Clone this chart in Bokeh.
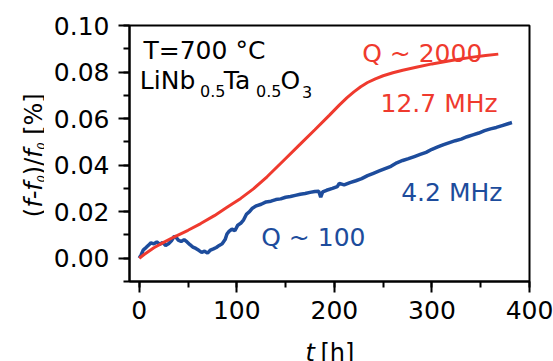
import math
from bokeh.plotting import figure
from bokeh.layouts import row, column
from bokeh.models import Range1d, Label, SingleIntervalTicker, PrintfTickFormatter
from bokeh.embed import file_html
from bokeh.resources import INLINE

# ---- data ----
red_t = [0, 5, 15, 25, 35, 50, 63, 77, 90, 104,
         117, 131, 148, 165, 180, 195, 205, 213, 220, 227,
         234, 242, 250, 260, 270, 285, 300, 320, 340, 355,
         368]
red_v = [0.0, 0.0016, 0.0045, 0.0068, 0.0090, 0.0120, 0.0149, 0.0183, 0.0219, 0.0257,
         0.0298, 0.0350, 0.0420, 0.0490, 0.0552, 0.0615, 0.0658, 0.0690, 0.0715, 0.0737,
         0.0755, 0.0771, 0.0784, 0.0797, 0.0808, 0.0822, 0.0835, 0.0850, 0.0863, 0.0871,
         0.0877]

blue_t = [0, 2, 4, 6, 8, 10, 12, 15, 18, 21,
          24, 27, 30, 33, 36, 38, 40, 43, 46, 49,
          52, 55, 58, 61, 64, 67, 70, 73, 76, 79,
          82, 85, 88, 90, 92, 95, 98, 101, 104, 107,
          110, 113, 116, 120, 125, 130, 135, 140, 145, 150,
          155, 160, 165, 170, 175, 180, 184, 186, 188, 192,
          198, 203, 205, 210, 216, 222, 228, 234, 240, 246,
          252, 258, 264, 270, 276, 282, 288, 294, 300, 306,
          312, 318, 324, 330, 336, 342, 348, 354, 360, 366,
          372, 378, 382]
blue_v = [0.0000, 0.0015, 0.0035, 0.0042, 0.0050, 0.0058, 0.0066, 0.0062, 0.0070, 0.0060,
          0.0068, 0.0055, 0.0062, 0.0075, 0.0095, 0.0088, 0.0078, 0.0072, 0.0080, 0.0070,
          0.0058, 0.0048, 0.0042, 0.0034, 0.0025, 0.0030, 0.0022, 0.0035, 0.0040, 0.0046,
          0.0055, 0.0062, 0.0080, 0.0105, 0.0115, 0.0125, 0.0118, 0.0142, 0.0150, 0.0165,
          0.0190, 0.0200, 0.0215, 0.0225, 0.0232, 0.0242, 0.0245, 0.0252, 0.0255, 0.0262,
          0.0265, 0.0270, 0.0275, 0.0278, 0.0283, 0.0287, 0.0288, 0.0262, 0.0285, 0.0292,
          0.0300, 0.0308, 0.0322, 0.0315, 0.0325, 0.0333, 0.0342, 0.0355, 0.0365, 0.0375,
          0.0385, 0.0395, 0.0410, 0.0420, 0.0428, 0.0437, 0.0446, 0.0455, 0.0468, 0.0478,
          0.0488, 0.0497, 0.0505, 0.0512, 0.0522, 0.0530, 0.0538, 0.0548, 0.0556, 0.0562,
          0.0570, 0.0578, 0.0583]

RED = "#EF3A2E"
BLUE = "#1D4C9C"
FONT = "DejaVu Sans"

LW = 44  # width of the strip holding the y-axis title

# ---- main plot ----
p = figure(width=553 - LW, height=330, output_backend="svg", toolbar_location=None,
           x_range=Range1d(-10, 400), y_range=Range1d(-0.01, 0.10),
           min_border_left=129 - LW, min_border_right=24, min_border_top=25,
           min_border_bottom=49)
p.title = None
p.background_fill_color = "white"
p.border_fill_color = "white"
p.outline_line_color = "black"
p.outline_line_width = 2
p.xgrid.grid_line_color = None
p.ygrid.grid_line_color = None

p.line(blue_t, blue_v, line_color=BLUE, line_width=3.5)
p.line(red_t, red_v, line_color=RED, line_width=3)

p.xaxis.ticker = SingleIntervalTicker(interval=100, num_minor_ticks=2)
p.yaxis.ticker = SingleIntervalTicker(interval=0.02, num_minor_ticks=2)
p.yaxis.formatter = PrintfTickFormatter(format="%.2f")
for ax in (p.xaxis[0], p.yaxis[0]):
    ax.axis_line_width = 2
    ax.axis_line_color = "black"
    ax.major_tick_line_width = 2
    ax.minor_tick_line_width = 2
    ax.major_tick_in = 0
    ax.major_tick_out = 11
    ax.minor_tick_in = 0
    ax.minor_tick_out = 6
    ax.major_label_text_font = FONT
    ax.major_label_text_font_size = "25px"
    ax.major_label_text_color = "black"
p.yaxis.major_label_standoff = 9
p.xaxis.major_label_standoff = 8


def lab(fig, x, y, text, size="25px", color="black", style="normal", angle=0.0,
        align="left"):
    fig.add_layout(Label(x=x, y=y, text=text, text_font=FONT, text_font_size=size,
                         text_color=color, text_font_style=style, angle=angle,
                         text_align=align, text_baseline="alphabetic"))

# annotations inside frame
lab(p, 4.35, 0.08926, "T=700 °C")
lab(p, 0.56, 0.07636, "LiNb")
lab(p, 62.3, 0.07207, "0.5", size="16px")
lab(p, 86.7, 0.07636, "Ta")
lab(p, 119.7, 0.07207, "0.5", size="16px")
lab(p, 144.8, 0.07636, "O")
lab(p, 166.8, 0.07164, "3", size="16px")

lab(p, 228.5, 0.08784, "Q ~ 2000", color=RED)
lab(p, 247.3, 0.06635, "12.7 MHz", color=RED)
lab(p, 268.5, 0.02836, "4.2 MHz", color=BLUE)
lab(p, 125.0, 0.00902, "Q ~ 100", color=BLUE)


def strip(w, h, xr, yr):
    f = figure(width=w, height=h, output_backend="svg", toolbar_location=None,
               x_range=Range1d(*xr), y_range=Range1d(*yr),
               x_axis_type=None, y_axis_type=None,
               min_border=0, min_border_left=0, min_border_right=0,
               min_border_top=0, min_border_bottom=0)
    f.title = None
    f.outline_line_color = None
    f.xgrid.grid_line_color = None
    f.ygrid.grid_line_color = None
    f.background_fill_color = "white"
    f.border_fill_color = "white"
    return f

# y axis title strip (page pixel coordinates; y range flipped).
# Pieces are anchored at their upper end (right-aligned, rotated 90 degrees).
L = strip(LW, 361, (0, LW), (361, 0))
A = math.pi / 2
XB = 33.3
XS = 40.5
lab(L, XB, 207.34, "(", size="24px", angle=A, align="right")
lab(L, XB, 181.74, "f-f", size="24px", style="italic", angle=A, align="right")
lab(L, XS, 174.7, "0", size="11px", style="italic", angle=A, align="right")
lab(L, XB, 157.25, ")/", size="24px", angle=A, align="right")
lab(L, XB, 148.85, "f", size="24px", style="italic", angle=A, align="right")
lab(L, XS, 141.9, "0", size="11px", style="italic", angle=A, align="right")
lab(L, XB, 92.8, "[%]", size="24px", angle=A, align="right")

# x axis title strip (its frame lines up with the main frame: page x 129..529)
B = strip(553 - LW, 31, (129, 529), (361, 330))
lab(B, 305, 352, "t", size="24px", style="italic")
lab(B, 320, 352, "[h]", size="24px")

layout = row(L, column(p, B, spacing=0), spacing=0)

open("out.html", "w").write(file_html(layout, INLINE))
